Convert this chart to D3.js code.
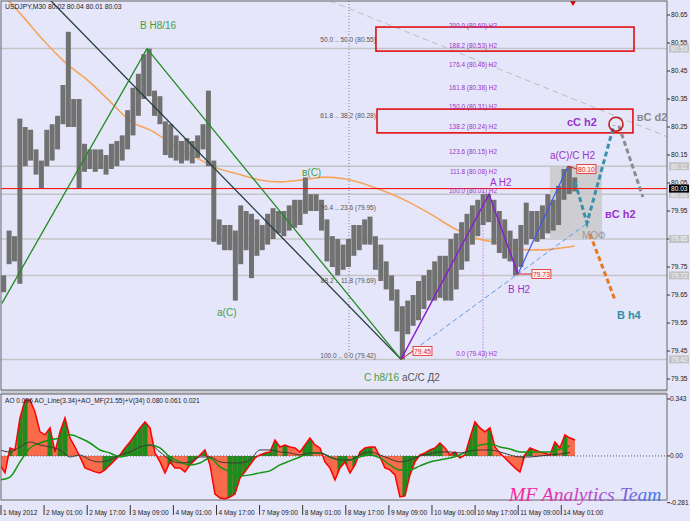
<!DOCTYPE html>
<html><head><meta charset="utf-8">
<script src="https://cdn.jsdelivr.net/npm/d3@7/dist/d3.min.js"></script>
<style>body{margin:0;background:#E6E6FA;}svg{display:block;font-family:"Liberation Sans",Arial,sans-serif;}</style>
</head><body><svg id="c" width="690" height="521"></svg>
<script>
// ---------- DATA ----------
const chartTitle = "USDJPY,M30  80.02 80.04 80.01 80.03";
const aoTitle = "AO 0.096  AO_Line(3.34)+AO_MF(21.55)+V(34) 0.080 0.061 0.021";
const timeLabels = ["1 May 2012","2 May 01:00","2 May 17:00","3 May 09:00","4 May 01:00","4 May 17:00","7 May 09:00","8 May 01:00","8 May 17:00","9 May 09:00","10 May 01:00","10 May 17:00","11 May 09:00","14 May 01:00"];
const barsPerLabel = 32;
const priceTicks = [80.65,80.55,80.45,80.35,80.25,80.15,80.05,79.95,79.85,79.75,79.65,79.55,79.45,79.35];
const levelLines = [80.53,80.11,80.01,79.85,79.72,79.42];
const bidPrice = 80.03;
const barsPerSample = 4;
const priceHigh = [79.72,79.88,79.86,80.28,80.25,80.24,80.17,80.13,80.24,80.26,
80.29,80.40,80.59,80.35,80.35,80.19,80.17,80.17,80.17,80.15,
80.19,80.20,80.22,80.31,80.39,80.44,80.51,80.53,80.38,80.36,
80.27,80.26,80.22,80.20,80.21,80.20,80.22,80.26,80.38,80.13,
79.92,79.90,79.90,79.88,79.97,79.95,79.94,79.92,79.90,79.94,
79.96,79.95,79.95,79.97,79.99,79.99,80.07,80.01,80.01,79.99,
79.92,79.86,79.85,79.83,79.85,79.90,79.90,79.92,79.93,79.86,
79.83,79.77,79.72,79.67,79.61,79.63,79.65,79.70,79.72,79.74,
79.77,79.79,79.79,79.85,79.87,79.91,79.94,79.97,79.99,80.01,
80.01,79.99,79.95,79.92,79.88,79.85,79.90,79.98,79.95,79.95,
79.97,80.01,79.99,80.04,80.10,80.11,80.07];
const priceLow = [79.66,79.76,79.77,79.69,80.11,80.13,80.08,80.03,80.11,80.13,
80.17,80.26,80.25,80.25,80.03,80.09,80.10,80.09,80.10,80.08,
80.10,80.11,80.13,80.17,80.22,80.29,80.35,80.36,80.29,80.26,
80.15,80.14,80.13,80.12,80.13,80.12,80.14,80.17,80.11,79.84,
79.83,79.81,79.81,79.63,79.76,79.81,79.71,79.79,79.81,79.83,
79.85,79.87,79.86,79.88,79.89,79.90,79.94,79.95,79.95,79.88,
79.77,79.75,79.72,79.74,79.75,79.79,79.81,79.83,79.83,79.74,
79.70,79.67,79.63,79.52,79.42,79.51,79.54,79.56,79.60,79.63,
79.63,79.64,79.63,79.63,79.67,79.74,79.77,79.83,79.86,79.90,
79.91,79.83,79.80,79.78,79.77,79.72,79.75,79.83,79.85,79.84,
79.85,79.87,79.88,79.90,79.99,80.01,80.02];
const maBars = [0,16,32,48,64,80,96,112,128,144,160,176,192,208,224,240,256,272,288,304,320,336,352,368,384,400,416,426];
const maPrice = [80.729,80.646,80.557,80.479,80.418,80.346,80.271,80.236,80.186,80.143,80.104,80.082,80.061,80.054,80.061,80.071,80.064,80.043,80.014,79.979,79.936,79.889,79.854,79.836,79.814,79.811,79.818,79.825];

// wave structure (bar index, price)
const darkTrend = [{bar:25,price:80.76},{bar:297,price:79.42}];
const waveH8 = [{bar:0.7,price:79.62},{bar:108.4,price:80.53},{bar:297,price:79.42}];
const waveH2 = [{bar:297,price:79.42},{bar:362.3,price:80.01},{bar:383.8,price:79.725}];
const waveH2c = [{bar:383.8,price:79.725},{bar:421,price:80.11}];
const h2Trend = [{bar:297,price:79.42},{bar:437.3,price:79.913}];
const grayTrend = [{bar:244.3,price:80.70},{bar:495.2,price:80.214}];
const projTeal = [{bar:426.2,price:80.054},{bar:435.1,price:79.907},{bar:455.1,price:80.257}];
const projGray = [{bar:458.8,price:80.254},{bar:476.6,price:80.0}];
const projOrange = [{bar:437.3,price:79.868},{bar:455.9,price:79.632}];
const targetZones = [{bar0:278.4,bar1:470,p0:80.607,p1:80.521},{bar0:279.2,bar1:469.2,p0:80.314,p1:80.229}];
const shadeBox = {bar0:407.6,bar1:446.2,p0:80.107,p1:79.854};
const targetCircle = {bar:456.6,price:80.26};
const fibVertical = {bar:258.4,p0:80.70,p1:79.43};
const h2Vertical = {bar:357.9,p0:80.02,p1:79.42};
const leftFib = [["50.0 .. 50.0 (80.55)",80.55],["61.8 .. 38.2 (80.28)",80.28],["76.4 .. 23.6 (79.95)",79.95],["88.2 .. 11.8 (79.69)",79.69],["100.0 .. 0.0 (79.42)",79.42]];
const leftFibBar = 278.4;
const h2Fib = [["200.0 (80.60) H2",80.60],["188.2 (80.53) H2",80.53],["176.4 (80.46) H2",80.46],["161.8 (80.38) H2",80.38],["150.0 (80.31) H2",80.31],["138.2 (80.24) H2",80.24],["123.6 (80.15) H2",80.15],["111.8 (80.08) H2",80.08],["100.0 (80.01) H2",80.01],["0.0 (79.43) H2",79.43]];
const h2FibBar = 368.3;
const waveLabels = [
 {t:"B H8/16",bar:103.2,price:80.60,c:"#3f9f3f",s:10,w:"normal"},
 {t:"a(C)",bar:160.4,price:79.575,c:"#3f9f3f",s:10,w:"normal"},
 {t:"в(C)",bar:223.5,price:80.075,c:"#3f9f3f",s:10,w:"normal"},
 {t:"C h8/16",bar:269.5,price:79.343,c:"#3f9f3f",s:10,w:"normal"},
 {t:"aC/C Д2",bar:297.7,price:79.343,c:"#555555",s:10,w:"normal"},
 {t:"A H2",bar:363,price:80.04,c:"#9932CC",s:10,w:"normal"},
 {t:"B H2",bar:376.4,price:79.657,c:"#9932CC",s:10,w:"normal"},
 {t:"a(C)/C H2",bar:407.6,price:80.136,c:"#9932CC",s:10,w:"normal"},
 {t:"cC h2",bar:420.2,price:80.254,c:"#9932CC",s:11,w:"bold"},
 {t:"вC h2",bar:448.4,price:79.925,c:"#9932CC",s:11,w:"bold"},
 {t:"вC d2",bar:472,price:80.27,c:"#8a8a8a",s:11,w:"bold"},
 {t:"МОФ",bar:431.4,price:79.85,c:"#9a9a9a",s:10,w:"normal"},
 {t:"B h4",bar:457.3,price:79.564,c:"#2f8ea8",s:11,w:"bold"}
];
const priceTags = [
 {t:"80.10",bar:427.6,price:80.10,fromBar:421,fromPrice:80.11},
 {t:"79.73",bar:394.2,price:79.725,fromBar:383.8,fromPrice:79.725},
 {t:"79.45",bar:305.9,price:79.45,fromBar:297,fromPrice:79.42}
];
const topMarkerBar = 424.7;

// indicator
const aoStartBar = -0.74, aoStepBars = 3.712, lineStepBars = 7.424;
const aoValues = [-0.054,-0.102,0.048,0.036,0.229,0.337,0.337,0.265,0.145,0.127,
0.169,0.024,0.145,0.229,0.108,0.054,-0.006,-0.072,-0.084,-0.096,
-0.102,-0.084,-0.054,-0.024,0.006,0.048,0.084,0.127,0.169,0.205,
0.169,0.018,-0.036,-0.102,-0.036,-0.072,-0.072,-0.096,-0.054,-0.024,
0.006,0.036,-0.054,-0.229,-0.253,-0.259,-0.247,-0.229,-0.133,-0.096,
-0.054,-0.012,0.006,0.018,0.024,0.096,0.054,0.066,0.054,0.048,
0.024,0.066,0.108,0.066,0.048,-0.036,-0.072,-0.145,-0.072,-0.036,
-0.102,-0.054,0.024,0.048,0.054,0.054,-0.006,-0.072,-0.084,-0.114,
-0.247,-0.241,-0.114,-0.036,0.006,0.018,0.036,0.048,0.078,0.048,
0.006,0.024,-0.012,0.006,0.108,0.205,0.169,0.145,0.169,0.054,
0.018,-0.012,-0.042,-0.072,-0.096,0.006,0.048,0.036,0.024,0.018,
0.006,0.084,0.048,0.127,0.108,0.096];
const aoMF = [-0.145,-0.127,-0.036,0.048,0.078,0.096,0.108,0.127,0.108,0.078,
0.036,0.018,-0.006,0.006,0.024,0.066,0.048,-0.006,-0.036,-0.054,
-0.042,-0.012,-0.066,-0.096,-0.120,-0.114,-0.102,-0.090,-0.054,-0.030,
-0.006,0.018,0.018,-0.006,-0.024,
-0.024,-0.006,0.006,-0.012,-0.054,-0.084,-0.084,-0.060,-0.036,-0.024,
-0.012,0.006,0.036,0.066,0.072,0.054,0.042,0.024,0.024,0.024,0.024,0.042,0.060];
const aoLine = [0.036,0.024,0.054,0.084,0.066,0.054,0.036,-0.006,0.006,-0.024,
-0.036,-0.024,0.006,0.024,0.054,0.066,0.024,-0.024,-0.042,-0.036,
-0.006,-0.006,-0.036,-0.042,-0.042,-0.024,0.036,0.036,0.024,0.018,
0.006,0.018,0.018,-0.006,-0.024,
-0.024,0.006,0.024,0.006,-0.018,-0.036,-0.024,0.000,0.012,0.024,
0.024,0.018,0.030,0.036,0.036,0.024,0.006,-0.006,-0.006,0.000,0.006,0.012,0.021];
const aoTicks = [[0.343,"0.343"],[0,"0.00"],[-0.281,"-0.281"]];

// ---------- SCALES ----------
const X0 = 1, X1 = 667, MT = 1, MB = 390, IT = 394, IB = 500;
const x = d3.scaleLinear().domain([0, 494.5]).range([X0, X1]);
const y = d3.scaleLinear().domain([79.35, 80.65]).range([379, 15]);
const ya = d3.scaleLinear().domain([-0.281, 0.343]).range([502.6, 399]);

const svg = d3.select("#c");
svg.append("rect").attr("width",690).attr("height",521).attr("fill","#E6E6FA");
const defs = svg.append("defs");
defs.append("clipPath").attr("id","mainClip").append("rect").attr("x",X0).attr("y",MT).attr("width",X1-X0).attr("height",MB-MT);
defs.append("clipPath").attr("id","indClip").append("rect").attr("x",X0).attr("y",IT).attr("width",X1-X0).attr("height",IB-IT);
const grad = defs.append("linearGradient").attr("id","wm").attr("x1","0").attr("x2","1").attr("y1","0").attr("y2","0");
grad.append("stop").attr("offset","0%").attr("stop-color","#ff1f8f");
grad.append("stop").attr("offset","45%").attr("stop-color","#d040c0");
grad.append("stop").attr("offset","100%").attr("stop-color","#3a7cf0");

const main = svg.append("g").attr("clip-path","url(#mainClip)");
const line = d3.line().x(d=>x(d.bar)).y(d=>y(d.price));

// level lines
main.selectAll(".lvl").data(levelLines).join("line")
  .attr("x1",X0).attr("x2",X1).attr("y1",d=>y(d)).attr("y2",d=>y(d))
  .attr("stroke","#c4c4c8").attr("stroke-width",1.5);

// verticals
main.append("line").attr("x1",x(fibVertical.bar)).attr("x2",x(fibVertical.bar))
  .attr("y1",y(fibVertical.p0)).attr("y2",y(fibVertical.p1))
  .attr("stroke","#808080").attr("stroke-dasharray","1,2");
main.append("line").attr("x1",x(h2Vertical.bar)).attr("x2",x(h2Vertical.bar))
  .attr("y1",y(h2Vertical.p0)).attr("y2",y(h2Vertical.p1))
  .attr("stroke","#b050e0").attr("stroke-dasharray","1,2");

// shaded box
main.append("rect").attr("x",x(shadeBox.bar0)).attr("y",y(shadeBox.p0))
  .attr("width",x(shadeBox.bar1)-x(shadeBox.bar0)).attr("height",y(shadeBox.p1)-y(shadeBox.p0))
  .attr("fill","#c8c8c8").attr("opacity",0.8);

// moving average
main.append("path").datum(maBars.map((b,i)=>({bar:b,price:maPrice[i]})))
  .attr("d",d3.line().x(d=>x(d.bar)).y(d=>y(d.price)).curve(d3.curveMonotoneX))
  .attr("fill","none").attr("stroke","#F5A55A").attr("stroke-width",1.6);

// price bars
const step = x(barsPerSample)-x(0);
main.selectAll(".pb").data(priceHigh).join("rect")
  .attr("x",(d,i)=>x(i*barsPerSample)+0.2).attr("width",step-0.4)
  .attr("y",d=>y(d)).attr("height",(d,i)=>Math.max(1,y(priceLow[i])-y(d)))
  .attr("fill","#717171");

// bid line
main.append("line").attr("x1",X0).attr("x2",X1).attr("y1",y(bidPrice)).attr("y2",y(bidPrice))
  .attr("stroke","#ff0000").attr("stroke-width",1);

// trend lines
main.append("path").attr("d",line(grayTrend)).attr("fill","none").attr("stroke","#b8c0b8").attr("stroke-dasharray","6,4");
main.append("path").attr("d",line(darkTrend)).attr("fill","none").attr("stroke","#1f3b3b").attr("stroke-width",1.3);
main.append("path").attr("d",line(waveH8)).attr("fill","none").attr("stroke","#228B22").attr("stroke-width",1.3);
main.append("path").attr("d",line(h2Trend)).attr("fill","none").attr("stroke","#5a9ae8").attr("stroke-dasharray","5,3");
main.append("path").attr("d",line(waveH2)).attr("fill","none").attr("stroke","#8a1ad0").attr("stroke-width",1.4);
main.append("path").attr("d",line(waveH2c)).attr("fill","none").attr("stroke","#3a5ae8").attr("stroke-width",1.2);

// target zones
main.selectAll(".tz").data(targetZones).join("rect")
  .attr("x",d=>x(d.bar0)).attr("y",d=>y(d.p0)).attr("width",d=>x(d.bar1)-x(d.bar0)).attr("height",d=>y(d.p1)-y(d.p0))
  .attr("fill","none").attr("stroke","#e01010").attr("stroke-width",1.6);

// projections
main.append("path").attr("d",line(projTeal)).attr("fill","none").attr("stroke","#3a90a8").attr("stroke-width",3).attr("stroke-dasharray","5,3");
main.append("path").attr("d",line(projGray)).attr("fill","none").attr("stroke","#8c8c8c").attr("stroke-width",3).attr("stroke-dasharray","5,3");
main.append("path").attr("d",line(projOrange)).attr("fill","none").attr("stroke","#e8781e").attr("stroke-width",3).attr("stroke-dasharray","5,3");
main.append("circle").attr("cx",x(targetCircle.bar)).attr("cy",y(targetCircle.price)).attr("r",7)
  .attr("fill","none").attr("stroke","#c01818").attr("stroke-width",1.6);

// fib labels
main.selectAll(".lf").data(leftFib).join("text")
  .attr("x",x(leftFibBar)).attr("y",d=>y(d[1])-1).attr("text-anchor","end")
  .attr("font-size",6.6).attr("fill","#555").text(d=>d[0]);
main.selectAll(".hf").data(h2Fib).join("text")
  .attr("x",x(h2FibBar)).attr("y",d=>y(d[1])-1).attr("text-anchor","end")
  .attr("font-size",6.4).attr("fill","#9932CC").text(d=>d[0]);

// wave labels
main.selectAll(".wl").data(waveLabels).join("text")
  .attr("x",d=>x(d.bar)).attr("y",d=>y(d.price)).attr("font-size",d=>d.s).attr("font-weight",d=>d.w)
  .attr("fill",d=>d.c).text(d=>d.t);

// price tags
priceTags.forEach(d=>{
  main.append("line").attr("x1",x(d.fromBar)).attr("y1",y(d.fromPrice)).attr("x2",x(d.bar)).attr("y2",y(d.price))
    .attr("stroke","#e02020").attr("stroke-width",1);
  main.append("rect").attr("x",x(d.bar)).attr("y",y(d.price)-4.5).attr("width",19).attr("height",9)
    .attr("fill","#fff0f0").attr("stroke","#e02020").attr("stroke-width",0.8);
  main.append("text").attr("x",x(d.bar)+9.5).attr("y",y(d.price)+2.5).attr("text-anchor","middle")
    .attr("font-size",6.8).attr("fill","#e02020").text(d.t);
});
main.append("path").attr("d",`M${x(topMarkerBar)-3},${MT}L${x(topMarkerBar)+3},${MT}L${x(topMarkerBar)},${MT+5}Z`).attr("fill","#e00000");

// title
svg.append("text").attr("x",5).attr("y",9).attr("font-size",6.8).attr("fill","#222").text(chartTitle);

// ---------- INDICATOR ----------
const ind = svg.append("g").attr("clip-path","url(#indClip)");
const ax = i => x(aoStartBar + i*aoStepBars);
const lx = i => x(aoStartBar + i*lineStepBars);
const area = d3.area().x((d,i)=>ax(i)).y0(ya(0)).y1(d=>ya(d));
ind.append("path").attr("d",area(aoValues)).attr("fill","#FA6B4C");
defs.append("clipPath").attr("id","aoClip").append("path").attr("d",area(aoValues));
const gbars = ind.append("g").attr("clip-path","url(#aoClip)");
const aoW = ax(1)-ax(0);
gbars.selectAll("rect").data(aoValues.map((v,i)=>({v,i})).filter(d=>d.i>0 && d.v>aoValues[d.i-1])).join("rect")
  .attr("x",d=>ax(d.i)-aoW/2).attr("width",aoW).attr("y",IT).attr("height",IB-IT).attr("fill","#1f8a1f");
ind.append("line").attr("x1",X0).attr("x2",X1).attr("y1",ya(0)).attr("y2",ya(0))
  .attr("stroke","#555").attr("stroke-dasharray","1,2");
ind.append("path").attr("d",d3.line().x((d,i)=>ax(i)).y(d=>ya(d))(aoValues)).attr("fill","none").attr("stroke","#ff0000").attr("stroke-width",1.5);
ind.append("path").attr("d",d3.line().x((d,i)=>lx(i)).y(d=>ya(d)).curve(d3.curveMonotoneX)(aoMF)).attr("fill","none").attr("stroke","#129612").attr("stroke-width",1.5);
ind.append("path").attr("d",d3.line().x((d,i)=>lx(i)).y(d=>ya(d)).curve(d3.curveMonotoneX)(aoLine)).attr("fill","none").attr("stroke","#3a3a3a").attr("stroke-width",1);
svg.append("text").attr("x",5).attr("y",403).attr("font-size",6.6).attr("fill","#222").text(aoTitle);

// ---------- FRAMES ----------
svg.append("rect").attr("x",X0).attr("y",MB).attr("width",X1-X0).attr("height",IT-MB).attr("fill","#c8c8d0");
svg.append("rect").attr("x",X0).attr("y",MT).attr("width",X1-X0).attr("height",MB-MT).attr("fill","none").attr("stroke","#666").attr("stroke-width",1);
svg.append("rect").attr("x",X0).attr("y",IT).attr("width",X1-X0).attr("height",IB-IT).attr("fill","none").attr("stroke","#666").attr("stroke-width",1);

// right price axis
const ra = svg.append("g");
ra.selectAll(".pt").data(priceTicks).join("line").attr("x1",X1).attr("x2",X1+3).attr("y1",d=>y(d)).attr("y2",d=>y(d)).attr("stroke","#333");
ra.selectAll(".ptl").data(priceTicks).join("text").attr("x",X1+4).attr("y",d=>y(d)+2.4)
  .attr("font-size",6.6).attr("fill","#222").text(d=>d.toFixed(2));
const tags = ra.selectAll(".tg").data(levelLines).join("g");
tags.append("rect").attr("x",X1+2).attr("y",d=>y(d)-4).attr("width",20).attr("height",8).attr("fill","#c4c4c8");
tags.append("text").attr("x",X1+4).attr("y",d=>y(d)+2.4).attr("font-size",6.6).attr("fill","#f4f4f4").text(d=>d.toFixed(2));
ra.append("rect").attr("x",X1+2).attr("y",y(bidPrice)-4).attr("width",20).attr("height",8).attr("fill","#000");
ra.append("text").attr("x",X1+4).attr("y",y(bidPrice)+2.4).attr("font-size",6.6).attr("fill","#fff").text(bidPrice.toFixed(2));

// indicator axis
svg.selectAll(".at").data(aoTicks).join("text").attr("x",X1+3).attr("y",d=>ya(d[0])+2.4)
  .attr("font-size",6.6).attr("fill","#222").text(d=>d[1]);
svg.selectAll(".atk").data(aoTicks).join("line").attr("x1",X1).attr("x2",X1+3).attr("y1",d=>ya(d[0])).attr("y2",d=>ya(d[0])).attr("stroke","#333");

// time axis
const ta = svg.append("g");
ta.selectAll("line").data(timeLabels).join("line").attr("x1",(d,i)=>x(i*barsPerLabel)).attr("x2",(d,i)=>x(i*barsPerLabel))
  .attr("y1",IB+5).attr("y2",IB+15).attr("stroke","#333");
ta.selectAll("text").data(timeLabels).join("text").attr("x",(d,i)=>x(i*barsPerLabel)+2).attr("y",IB+14.5)
  .attr("font-size",6.6).attr("fill","#222").text(d=>d);

// watermark
svg.append("text").attr("x",509).attr("y",501).attr("font-family","'Liberation Serif','Times New Roman',serif")
  .attr("font-style","italic").attr("font-size",19.6).attr("fill","url(#wm)").text("MF Analytics Team");
</script></body></html>
